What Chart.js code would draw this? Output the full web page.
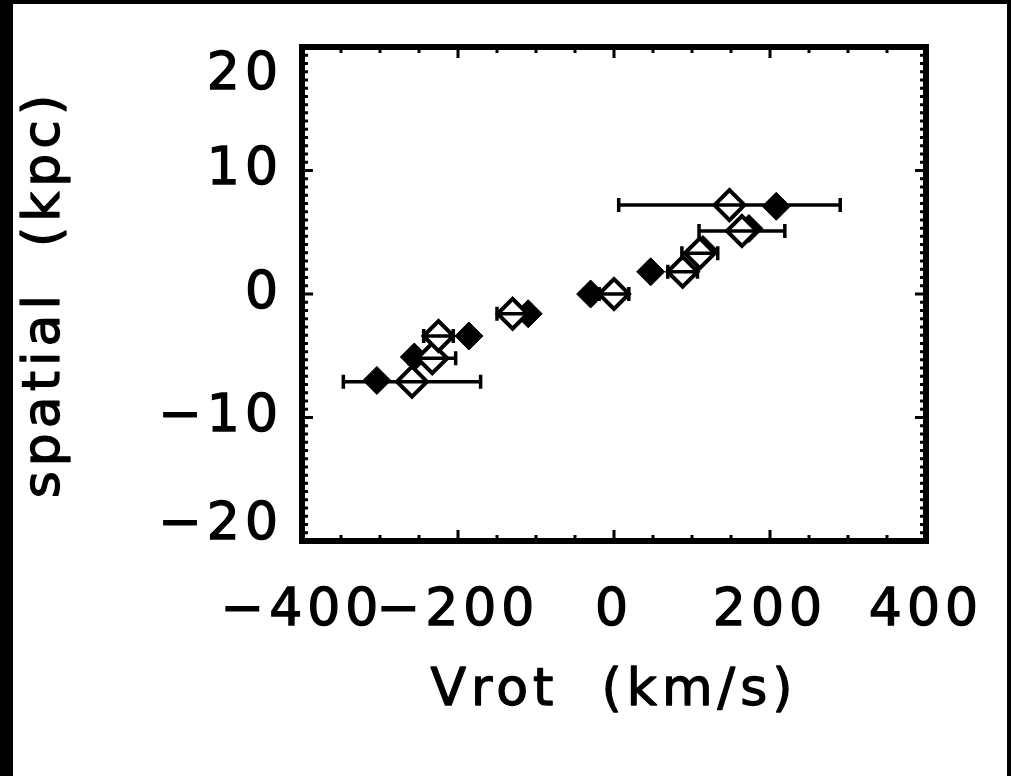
<!DOCTYPE html>
<html lang="en">
<head>
<meta charset="UTF-8">
<title>spatial vs Vrot</title>
<script src="https://cdn.jsdelivr.net/npm/chart.js"></script>
<style>
  html, body { margin: 0; padding: 0; background: #000; }
  #wrap {
    position: absolute; left: 13px; top: 4px;
    width: 994px; height: 772px; background: #fff;
  }
</style>
</head>
<body>
<div id="wrap"><canvas id="c"></canvas></div>
<script>
// filled diamonds
const filledV = [-304, -256, -186, -110, -30, 47, 114, 173, 208];
const filledS = [-7.0, -5.1, -3.4, -1.6, 0.0, 1.8, 3.6, 5.3, 7.1];
// open diamonds with horizontal error bars
const openV = [-259, -233, -225, -130, 0, 88, 110, 164, 148];
const openS = [-7.1, -5.2, -3.4, -1.6, 0.0, 1.8, 3.3, 5.1, 7.2];
const openErr = [88, 30, 19, 20, 19, 19, 23, 55, 142];

const xTicks = [-400, -200, 0, 200, 400];
const xTickLabels = ['\u2212400', '\u2212200', '0', '200', '400'];
const yTicks = [-20, -10, 0, 10, 20];
const yTickLabels = ['\u221220', '\u221210', '0', '10', '20'];
const xTitle = 'Vrot  (km/s)';
const yTitle = 'spatial  (kpc)';

const FONT = 'DejaVu Sans, sans-serif';
const SIZE = 52;
const SPACING = '5px';
const STROKE = 1.3;

// wide IDL-like lettering
const spacing = {
  id: 'spacing',
  beforeUpdate(chart) { chart.ctx.letterSpacing = SPACING; },
  beforeDraw(chart) { chart.ctx.letterSpacing = SPACING; }
};

// box + inward ticks (IDL style), error bars, axis titles
const idlAxes = {
  id: 'idlAxes',
  afterDatasetsDraw(chart) {
    const ctx = chart.ctx, a = chart.chartArea;
    const xs = chart.scales.x, ys = chart.scales.y;
    ctx.save();
    ctx.strokeStyle = '#000';
    // error bars
    ctx.lineWidth = 3.5;
    openV.forEach((v, i) => {
      const y = ys.getPixelForValue(openS[i]);
      const x0 = xs.getPixelForValue(v - openErr[i]);
      const x1 = xs.getPixelForValue(v + openErr[i]);
      ctx.beginPath();
      ctx.moveTo(x0, y); ctx.lineTo(x1, y);
      ctx.moveTo(x0, y - 7); ctx.lineTo(x0, y + 7);
      ctx.moveTo(x1, y - 7); ctx.lineTo(x1, y + 7);
      ctx.stroke();
    });
    // minor + major ticks
    ctx.lineWidth = 3;
    ctx.beginPath();
    for (let v = -400; v <= 400; v += 50) {
      const x = xs.getPixelForValue(v);
      const len = xTicks.includes(v) ? 11 : 6;
      ctx.moveTo(x, a.bottom); ctx.lineTo(x, a.bottom - len);
      ctx.moveTo(x, a.top); ctx.lineTo(x, a.top + len);
    }
    for (let v = -20; v <= 20.01; v += 2 / 3) {
      const y = ys.getPixelForValue(v);
      const len = yTicks.some(t => Math.abs(t - v) < 0.01) ? 11 : 6;
      ctx.moveTo(a.left, y); ctx.lineTo(a.left + len, y);
      ctx.moveTo(a.right, y); ctx.lineTo(a.right - len, y);
    }
    ctx.stroke();
    ctx.lineWidth = 6;
    ctx.strokeRect(a.left, a.top, a.right - a.left, a.bottom - a.top);
    ctx.restore();
  },
  afterDraw(chart) {
    const ctx = chart.ctx, a = chart.chartArea;
    ctx.save();
    ctx.font = SIZE + 'px ' + FONT;
    ctx.fillStyle = '#000';
    ctx.strokeStyle = '#000';
    ctx.lineWidth = STROKE;
    ctx.lineJoin = 'round';
    ctx.textAlign = 'center';
    ctx.textBaseline = 'middle';
    const cx = (a.left + a.right) / 2;
    ctx.fillText(xTitle, cx, 687);
    ctx.strokeText(xTitle, cx, 687);
    ctx.translate(32, (a.top + a.bottom) / 2);
    ctx.rotate(-Math.PI / 2);
    ctx.fillText(yTitle, 0, 0);
    ctx.strokeText(yTitle, 0, 0);
    ctx.restore();
  }
};

// end labels of the y axis sit inside the axis range
function yLabel(v) {
  const t = yTickLabels[yTicks.indexOf(v)];
  if (v === yTicks[yTicks.length - 1]) return ['', t];
  if (v === yTicks[0]) return [t, ''];
  return t;
}
function yFont(c) {
  const v = c.tick ? c.tick.value : 0;
  let lh = 1.2;
  if (v === yTicks[yTicks.length - 1]) lh = 1.1;
  if (v === yTicks[0]) lh = 0.58;
  return { family: FONT, size: SIZE, lineHeight: lh };
}

new Chart(document.getElementById('c'), {
  type: 'scatter',
  data: {
    datasets: [
      {
        label: 'open',
        data: openV.map((v, i) => ({ x: v, y: openS[i] })),
        pointStyle: 'rectRot',
        pointRadius: 15,
        pointBorderWidth: 4,
        pointBackgroundColor: '#fff',
        pointBorderColor: '#000'
      },
      {
        label: 'filled',
        data: filledV.map((v, i) => ({ x: v, y: filledS[i] })),
        pointStyle: 'rectRot',
        pointRadius: 14,
        pointBorderWidth: 1,
        pointBackgroundColor: '#000',
        pointBorderColor: '#000'
      }
    ]
  },
  options: {
    responsive: true,
    maintainAspectRatio: false,
    animation: false,
    layout: { padding: { left: 0, top: 43, right: 81, bottom: 0 } },
    plugins: { legend: { display: false }, tooltip: { enabled: false } },
    scales: {
      x: {
        type: 'linear', min: -400, max: 400,
        afterBuildTicks: s => { s.ticks = xTicks.map(v => ({ value: v })); },
        afterFit: s => { s.height = 235; s.paddingLeft = 0; s.paddingRight = 0; },
        grid: { display: false, drawTicks: false },
        border: { display: false },
        ticks: {
          color: '#000', padding: 39, maxRotation: 0, autoSkip: false,
          textStrokeColor: '#000', textStrokeWidth: STROKE,
          font: { family: FONT, size: SIZE },
          callback: v => xTickLabels[xTicks.indexOf(v)]
        }
      },
      y: {
        type: 'linear', min: -20, max: 20,
        afterBuildTicks: s => { s.ticks = yTicks.map(v => ({ value: v })); },
        afterFit: s => { s.width = 289; s.paddingTop = 0; s.paddingBottom = 0; },
        grid: { display: false, drawTicks: false },
        border: { display: false },
        ticks: {
          color: '#000', padding: 19, autoSkip: false,
          textStrokeColor: '#000', textStrokeWidth: STROKE,
          font: yFont,
          callback: yLabel
        }
      }
    }
  },
  plugins: [spacing, idlAxes]
});
</script>
</body>
</html>
